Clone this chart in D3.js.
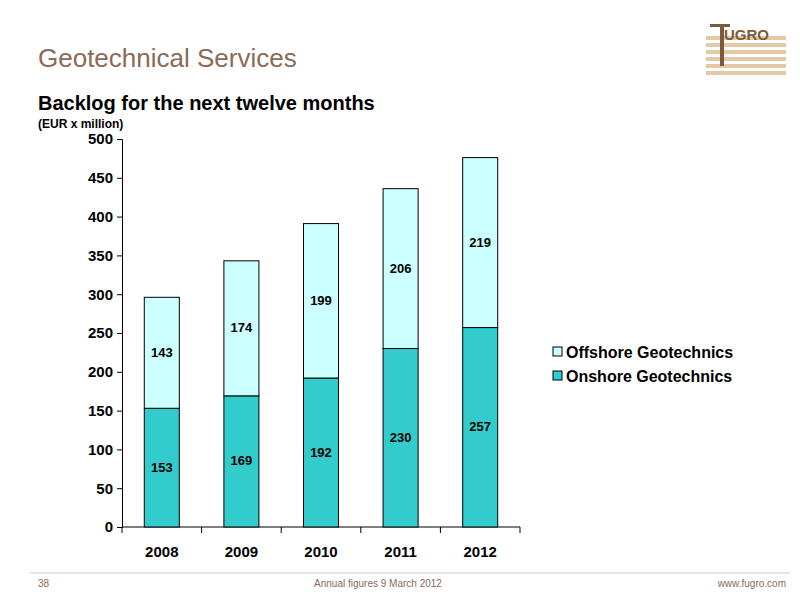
<!DOCTYPE html>
<html><head><meta charset="utf-8">
<script src="https://cdn.jsdelivr.net/npm/d3@7"></script>
<style>body{margin:0;background:#fff}text{font-family:"Liberation Sans",Arial,sans-serif}</style>
</head><body><div id="chart"></div>
<script>
const years = ["2008", "2009", "2010", "2011", "2012"];
const onshore = [153, 169, 192, 230, 257];
const offshore = [143, 174, 199, 206, 219];
const yTicks = [0, 50, 100, 150, 200, 250, 300, 350, 400, 450, 500];

const svg = d3.select("#chart").append("svg").attr("width", 800).attr("height", 600);

// header
svg.append("text").attr("x", 38).attr("y", 67).attr("font-size", 26).attr("fill", "#8a6a58")
  .text("Geotechnical Services");
svg.append("text").attr("x", 38).attr("y", 110).attr("font-size", 20).attr("font-weight", "bold")
  .text("Backlog for the next twelve months");
svg.append("text").attr("x", 38).attr("y", 128).attr("font-size", 12).attr("font-weight", "bold")
  .text("(EUR x million)");

// logo
const logo = svg.append("g").attr("transform", "translate(706,18)");
for (let i = 0; i < 6; i++) {
  logo.append("rect").attr("x", 0).attr("y", 18 + i * 7).attr("width", 80).attr("height", 4).attr("fill", "#e3c9a6");
}
logo.append("rect").attr("x", 4).attr("y", 6).attr("width", 20).attr("height", 3).attr("fill", "#7a5a3a");
logo.append("rect").attr("x", 14).attr("y", 6).attr("width", 4).attr("height", 42).attr("fill", "#7a5a3a");
logo.append("text").attr("x", 18).attr("y", 22).attr("font-size", 15).attr("font-weight", "bold")
  .attr("fill", "#7a5a3a").text("UGRO");

// chart
const x = d3.scaleBand().domain(years).range([122, 520]).paddingInner(0.56).paddingOuter(0.28);
const y = d3.scaleLinear().domain([0, 500]).range([527, 139]);

svg.append("g").attr("transform", "translate(122,0)")
  .call(d3.axisLeft(y).tickValues(yTicks).tickSize(5).tickPadding(4))
  .call(g => g.selectAll("text").attr("font-size", 15).attr("font-weight", "bold").attr("fill", "#000"))
  .call(g => g.selectAll("line,path").attr("stroke", "#000"));

const xTickPos = years.map((d, i) => 122 + i * (398 / 5)).concat([520]);
const xa = svg.append("g");
xa.append("line").attr("x1", 122).attr("x2", 520).attr("y1", 527).attr("y2", 527).attr("stroke", "#000");
xa.selectAll(".t").data(xTickPos).enter().append("line")
  .attr("x1", d => d).attr("x2", d => d).attr("y1", 527).attr("y2", 533).attr("stroke", "#000");
xa.selectAll("text").data(years).enter().append("text")
  .attr("x", d => x(d) + x.bandwidth() / 2).attr("y", 557).attr("text-anchor", "middle")
  .attr("font-size", 15).attr("font-weight", "bold").text(d => d);

const data = years.map((yr, i) => ({ yr, on: onshore[i], off: offshore[i] }));
const bars = svg.append("g");
bars.selectAll(".on").data(data).enter().append("rect")
  .attr("x", d => x(d.yr)).attr("width", x.bandwidth())
  .attr("y", d => y(d.on)).attr("height", d => y(0) - y(d.on))
  .attr("fill", "#33cccc").attr("stroke", "#000");
bars.selectAll(".off").data(data).enter().append("rect")
  .attr("x", d => x(d.yr)).attr("width", x.bandwidth())
  .attr("y", d => y(d.on + d.off)).attr("height", d => y(d.on) - y(d.on + d.off))
  .attr("fill", "#ccffff").attr("stroke", "#000");
bars.selectAll(".lon").data(data).enter().append("text")
  .attr("x", d => x(d.yr) + x.bandwidth() / 2).attr("y", d => y(d.on / 2) + 4)
  .attr("text-anchor", "middle").attr("font-size", 13).attr("font-weight", "bold").text(d => d.on);
bars.selectAll(".loff").data(data).enter().append("text")
  .attr("x", d => x(d.yr) + x.bandwidth() / 2).attr("y", d => y(d.on + d.off / 2) + 4)
  .attr("text-anchor", "middle").attr("font-size", 13).attr("font-weight", "bold").text(d => d.off);

// legend
const legend = [["Offshore Geotechnics", "#ccffff"], ["Onshore Geotechnics", "#33cccc"]];
const lg = svg.append("g").attr("transform", "translate(553,347)");
legend.forEach((l, i) => {
  lg.append("rect").attr("x", 0).attr("y", i * 24).attr("width", 9).attr("height", 9)
    .attr("fill", l[1]).attr("stroke", "#000");
  lg.append("text").attr("x", 13).attr("y", i * 24 + 11).attr("font-size", 16).attr("font-weight", "bold").text(l[0]);
});

// footer
svg.append("line").attr("x1", 30).attr("x2", 790).attr("y1", 573).attr("y2", 573).attr("stroke", "#d8c8b8");
svg.append("text").attr("x", 38).attr("y", 587).attr("font-size", 10).attr("fill", "#8a6a58").text("38");
svg.append("text").attr("x", 378).attr("y", 587).attr("font-size", 10).attr("fill", "#8a6a58").attr("text-anchor", "middle").text("Annual figures 9 March 2012");
svg.append("text").attr("x", 786).attr("y", 587).attr("font-size", 10).attr("fill", "#8a6a58").attr("text-anchor", "end").text("www.fugro.com");
</script></body></html>
